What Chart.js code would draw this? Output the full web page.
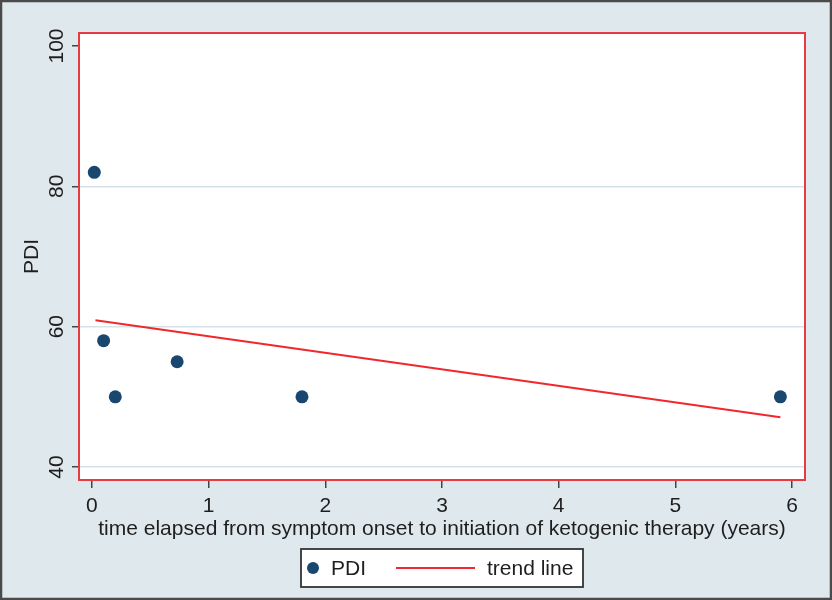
<!DOCTYPE html>
<html>
<head>
<meta charset="utf-8">
<script src="https://cdn.jsdelivr.net/npm/chart.js@4.4.1/dist/chart.umd.min.js"></script>
<style>
  body { margin: 0; background: #ffffff; }
  #chart { display: block; }
</style>
</head>
<body>
<canvas id="chart" width="832" height="600"></canvas>
<script>
// data
const timeYears = [0.02, 0.10, 0.20, 0.73, 1.80, 5.90];
const pdiValues = [82, 58, 50, 55, 50, 50];
const trendX = [0.03, 5.90];
const trendY = [60.9, 47.1];
const xTicks = [0, 1, 2, 3, 4, 5, 6];
const yTicks = [40, 60, 80, 100];

const FONT = "'Liberation Sans', Arial, sans-serif";
const FSIZE = 21;
const TEXT = '#1e1e1e';
const BG = '#dfe9ed';

const bgPlugin = {
	id: 'bgPlugin',
	beforeDraw(chart) {
		const ctx = chart.ctx;
		const a = chart.chartArea;
		ctx.save();
		ctx.fillStyle = BG;
		ctx.fillRect(0, 0, chart.width, chart.height);
		ctx.strokeStyle = '#4a4a4a';
		ctx.lineWidth = 2.5;
		ctx.strokeRect(1, 1, chart.width - 2, chart.height - 2);
		ctx.fillStyle = '#ffffff';
		ctx.fillRect(a.left, a.top, a.right - a.left, a.bottom - a.top);
		ctx.restore();
	},
	afterDraw(chart) {
		const ctx = chart.ctx;
		const a = chart.chartArea;
		ctx.save();
		// plot region border
		ctx.strokeStyle = '#e63b45';
		ctx.lineWidth = 2;
		ctx.strokeRect(a.left, a.top, a.right - a.left, a.bottom - a.top);

		// rotated y tick labels
		const ys = chart.scales.y;
		ctx.fillStyle = TEXT;
		ctx.font = FSIZE + 'px ' + FONT;
		ctx.textAlign = 'center';
		ctx.textBaseline = 'alphabetic';
		ys.ticks.forEach(function (t) {
			const py = ys.getPixelForValue(t.value);
			ctx.save();
			ctx.translate(63, py);
			ctx.rotate(-Math.PI / 2);
			ctx.fillText(String(t.value), 0, 0);
			ctx.restore();
		});

		// legend box
		const cx = (a.left + a.right) / 2;
		const bw = 282, bh = 38;
		const bx = cx - bw / 2, by = 549;
		ctx.fillStyle = '#ffffff';
		ctx.fillRect(bx, by, bw, bh);
		ctx.strokeStyle = '#333333';
		ctx.lineWidth = 1.8;
		ctx.strokeRect(bx, by, bw, bh);

		const ds = chart.data.datasets;
		const my = by + bh / 2;
		ctx.fillStyle = ds[0].backgroundColor;
		ctx.beginPath();
		ctx.arc(bx + 12, my, 6, 0, Math.PI * 2);
		ctx.fill();
		ctx.strokeStyle = ds[1].borderColor;
		ctx.lineWidth = 2;
		ctx.beginPath();
		ctx.moveTo(bx + 95, my);
		ctx.lineTo(bx + 174, my);
		ctx.stroke();
		ctx.fillStyle = TEXT;
		ctx.textAlign = 'left';
		ctx.textBaseline = 'middle';
		ctx.font = FSIZE + 'px ' + FONT;
		ctx.fillText(ds[0].label, bx + 30, my + 1);
		ctx.fillText(ds[1].label, bx + 186, my + 1);
		ctx.restore();
	}
};

const pdiPoints = timeYears.map(function (t, i) { return { x: t, y: pdiValues[i] }; });
const trendPoints = trendX.map(function (t, i) { return { x: t, y: trendY[i] }; });

new Chart(document.getElementById('chart'), {
	type: 'scatter',
	data: {
		datasets: [
			{
				label: 'PDI',
				data: pdiPoints,
				backgroundColor: '#1a476f',
				borderWidth: 0,
				pointRadius: 6.5
			},
			{
				type: 'line',
				label: 'trend line',
				data: trendPoints,
				borderColor: '#f0282e',
				borderWidth: 2,
				pointRadius: 0,
				fill: false
			}
		]
	},
	options: {
		responsive: false,
		animation: false,
		layout: { padding: { left: 0, top: 33, right: 27, bottom: 58 } },
		plugins: {
			legend: { display: false },
			tooltip: { enabled: false }
		},
		scales: {
			x: {
				type: 'linear',
				min: -0.111,
				max: 6.111,
				afterBuildTicks: function (scale) {
					scale.ticks = xTicks.map(function (v) { return { value: v }; });
				},
				afterFit: function (scale) { scale.height = 62; },
				border: { display: false },
				grid: {
					drawOnChartArea: false,
					tickLength: 8,
					tickColor: '#444444',
					lineWidth: 1.5,
					color: '#444444'
				},
				ticks: {
					color: TEXT,
					padding: 6,
					maxRotation: 0,
					font: { family: FONT, size: FSIZE }
				},
				title: {
					display: true,
					text: 'time elapsed from symptom onset to initiation of ketogenic therapy (years)',
					color: TEXT,
					padding: 0,
					font: { family: FONT, size: FSIZE }
				}
			},
			y: {
				min: 38.15,
				max: 101.85,
				afterBuildTicks: function (scale) {
					scale.ticks = yTicks.map(function (v) { return { value: v }; });
				},
				afterFit: function (scale) { scale.width = 79; },
				border: { display: false },
				grid: {
					tickLength: 7,
					tickColor: '#444444',
					lineWidth: 1.5,
					color: function (c) {
						return c.tick && c.tick.value === 100 ? 'rgba(0,0,0,0)' : '#d5e3e8';
					}
				},
				ticks: { display: false },
				title: {
					display: true,
					text: 'PDI',
					color: TEXT,
					padding: { top: 20, bottom: 0 },
					font: { family: FONT, size: FSIZE }
				}
			}
		}
	},
	plugins: [bgPlugin]
});
</script>
</body>
</html>
